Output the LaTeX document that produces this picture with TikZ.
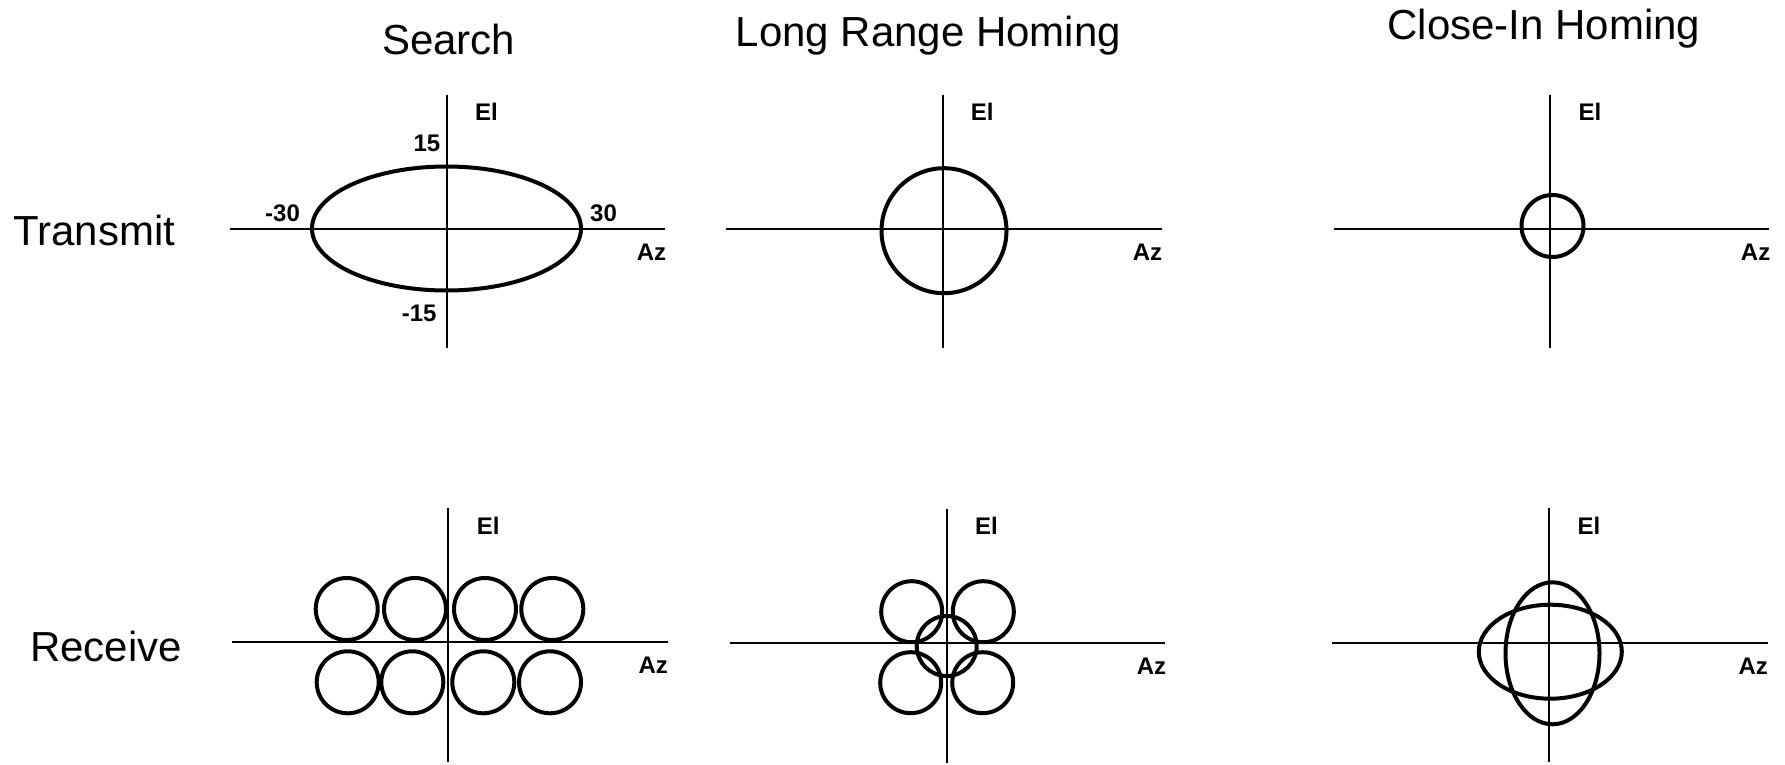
\documentclass[tikz,border=0pt]{standalone}
\usepackage{fontspec}
\setmainfont{Liberation Sans}
\begin{document}
\begin{tikzpicture}[x=1pt,y=-1pt,
  axis/.style={line width=2pt},
  beam/.style={line width=4pt},
  ttl/.style={inner sep=0pt,anchor=base,font=\fontsize{42}{50}\selectfont},
  rowlbl/.style={inner sep=0pt,anchor=base west,font=\fontsize{42}{50}\selectfont},
  lbl/.style={inner sep=0pt,anchor=base west,font=\fontsize{24}{28}\selectfont\bfseries}]
\useasboundingbox (0,0) rectangle (1785,765);
% titles
\node[ttl] (t1) at (448.8,55) {Search};
\node[ttl] (t2) at (928.3,46.7) {Long Range Homing};
\node[ttl] (t3) at (1543.8,40) {Close-In Homing};
\node[rowlbl] (r1) at (13.3,245) {Transmit};
\node[rowlbl] (r2) at (30,661.7) {Receive};
% ---- Transmit / Search
\draw[axis] (230,228.7) -- (665,228.7);
\draw[axis] (446.7,95) -- (446.7,348);
\draw[beam] (446.5,228.5) ellipse [x radius=134.5pt, y radius=62pt];
\node[lbl] (e1) at (475,121) {El};
\node[lbl] (a1) at (636.7,260) {Az};
\node[lbl] (p15) at (413.3,151.7) {15};
\node[lbl] (m30) at (265,221.7) {-30};
\node[lbl] (p30) at (590,221.7) {30};
\node[lbl] (m15) at (401.7,321.7) {-15};
% ---- Transmit / Long Range
\draw[axis] (726,228.7) -- (1161.7,228.7);
\draw[axis] (942.7,95) -- (942.7,348);
\draw[beam] (944,230.7) circle [radius=62.5pt];
\node[lbl] (e2) at (970.7,120.7) {El};
\node[lbl] (a2) at (1132.7,260) {Az};
% ---- Transmit / Close-In
\draw[axis] (1334,228.7) -- (1769,228.7);
\draw[axis] (1550,95) -- (1550,348);
\draw[beam] (1552.5,226) circle [radius=31pt];
\node[lbl] (e3) at (1578.3,120.7) {El};
\node[lbl] (a3) at (1740.7,260) {Az};
% ---- Receive / Search
\draw[axis] (232,642.3) -- (667.7,642.3);
\draw[axis] (448.3,508) -- (448.3,761.7);
\foreach \cx in {346.7,415,485,552.3} \draw[beam] (\cx,609) circle [radius=31pt];
\foreach \cx in {347.7,412.3,483.3,550} \draw[beam] (\cx,682.3) circle [radius=31pt];
\node[lbl] (e4) at (476.7,534) {El};
\node[lbl] (a4) at (638.3,673.3) {Az};
% ---- Receive / Long Range
\draw[axis] (730,643.3) -- (1165,643.3);
\draw[axis] (946.7,509.3) -- (946.7,762.7);
\draw[beam] (911.7,611.7) circle [radius=30.5pt];
\draw[beam] (983.3,611.7) circle [radius=30.5pt];
\draw[beam] (946.7,646) circle [radius=30pt];
\draw[beam] (910.7,682.7) circle [radius=30.5pt];
\draw[beam] (982.7,682.7) circle [radius=30.5pt];
\node[lbl] (e5) at (975,534.3) {El};
\node[lbl] (a5) at (1136.7,674.3) {Az};
% ---- Receive / Close-In
\draw[axis] (1332.3,642.7) -- (1767.7,642.7);
\draw[axis] (1549,508.3) -- (1549,761.7);
\draw[beam] (1550.3,651.7) ellipse [x radius=71.5pt, y radius=47pt];
\draw[beam] (1552.5,653.3) ellipse [x radius=47pt, y radius=71pt];
\node[lbl] (e6) at (1577.3,534) {El};
\node[lbl] (a6) at (1738.3,674.3) {Az};
\end{tikzpicture}
\end{document}
